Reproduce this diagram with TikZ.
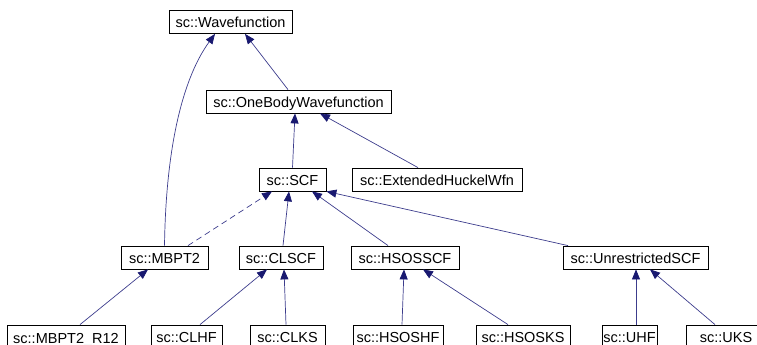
\documentclass[tikz,border=0pt]{standalone}
\usepackage{fontspec}
\setmainfont{Liberation Sans}
\usetikzlibrary{arrows.meta}
\definecolor{edgeblue}{RGB}{60,60,140}
\definecolor{headblue}{RGB}{25,25,112}
\tikzset{
  cls/.style={draw, line width=0.8pt, fill=white, rectangle, inner sep=0pt,
    minimum height=23pt, text height=12pt, text depth=0pt,
    font=\fontsize{14.5}{17}\selectfont},
  inh/.style={draw=edgeblue, line width=0.7pt,
    -{Triangle[length=10pt,width=8pt,color=headblue,fill=headblue]}},
}
\begin{document}
\begin{tikzpicture}[x=1pt,y=-1pt]
      \useasboundingbox (0,0) rectangle (757,345);
      \node[cls, minimum width=123pt] (wfn) at (230.5,22) {sc::Wavefunction};
      \node[cls, minimum width=185pt] (obwfn) at (298.5,101.5) {sc::OneBodyWavefunction};
      \node[cls, minimum width=67pt] (scf) at (292.5,179.5) {sc::SCF};
      \node[cls, minimum width=170pt] (ehw) at (437,179.5) {sc::ExtendedHuckelWfn};
      \node[cls, minimum width=87pt] (mbpt2) at (164.5,257.5) {sc::MBPT2};
      \node[cls, minimum width=84pt] (clscf) at (281,257.5) {sc::CLSCF};
      \node[cls, minimum width=108pt] (hsosscf) at (405,257.5) {sc::HSOSSCF};
      \node[cls, minimum width=145pt] (uscf) at (635.5,257.5) {sc::UnrestrictedSCF};
      \node[cls, minimum width=118pt, text height=13.5pt] (mbpt2r12) at (66,336.5) {sc::MBPT2\_R12};
      \node[cls, minimum width=71pt] (clhf) at (186.5,336.5) {sc::CLHF};
      \node[cls, minimum width=75pt] (clks) at (287.5,336.5) {sc::CLKS};
      \node[cls, minimum width=90pt] (hsoshf) at (398,336.5) {sc::HSOSHF};
      \node[cls, minimum width=94pt] (hsosks) at (523,336.5) {sc::HSOSKS};
      \node[cls, minimum width=55pt] (uhf) at (629.5,336.5) {sc::UHF};
      \node[cls, minimum width=80pt] (uks) at (726,336.5) {sc::UKS};
      \begin{scope}[inh]
        \draw ([xshift=-10.5pt]obwfn.north) to ([xshift=14.5pt]wfn.south);
        \draw (mbpt2.north) .. controls (166,140) and (185,75) .. ([xshift=-15.5pt]wfn.south);
        \draw (scf.north) to ([xshift=-3.5pt]obwfn.south);
        \draw ([xshift=-19pt]ehw.north) to ([xshift=21.5pt]obwfn.south);
        \draw[dashed, dash pattern=on 6pt off 4pt] ([xshift=23.5pt]mbpt2.north) to ([xshift=-20.5pt]scf.south);
        \draw ([xshift=2pt]clscf.north) to ([xshift=-3.5pt]scf.south);
        \draw ([xshift=-17pt]hsosscf.north) to ([xshift=19.5pt]scf.south);
        \draw ([xshift=-67.5pt]uscf.north) to (scf.south east);
        \draw ([xshift=14pt]mbpt2r12.north) to ([xshift=-16.5pt]mbpt2.south);
        \draw ([xshift=13.5pt]clhf.north) to ([xshift=-14pt]clscf.south);
        \draw ([xshift=-1.5pt]clks.north) to ([xshift=3pt]clscf.south);
        \draw ([xshift=4pt]hsoshf.north) to ([xshift=-1pt]hsosscf.south);
        \draw ([xshift=-15pt]hsosks.north) to ([xshift=18pt]hsosscf.south);
        \draw ([xshift=6.5pt]uhf.north) to ([xshift=0.5pt]uscf.south);
        \draw ([xshift=-11pt]uks.north) to ([xshift=14.5pt]uscf.south);
      \end{scope}
    \end{tikzpicture}
\end{document}
